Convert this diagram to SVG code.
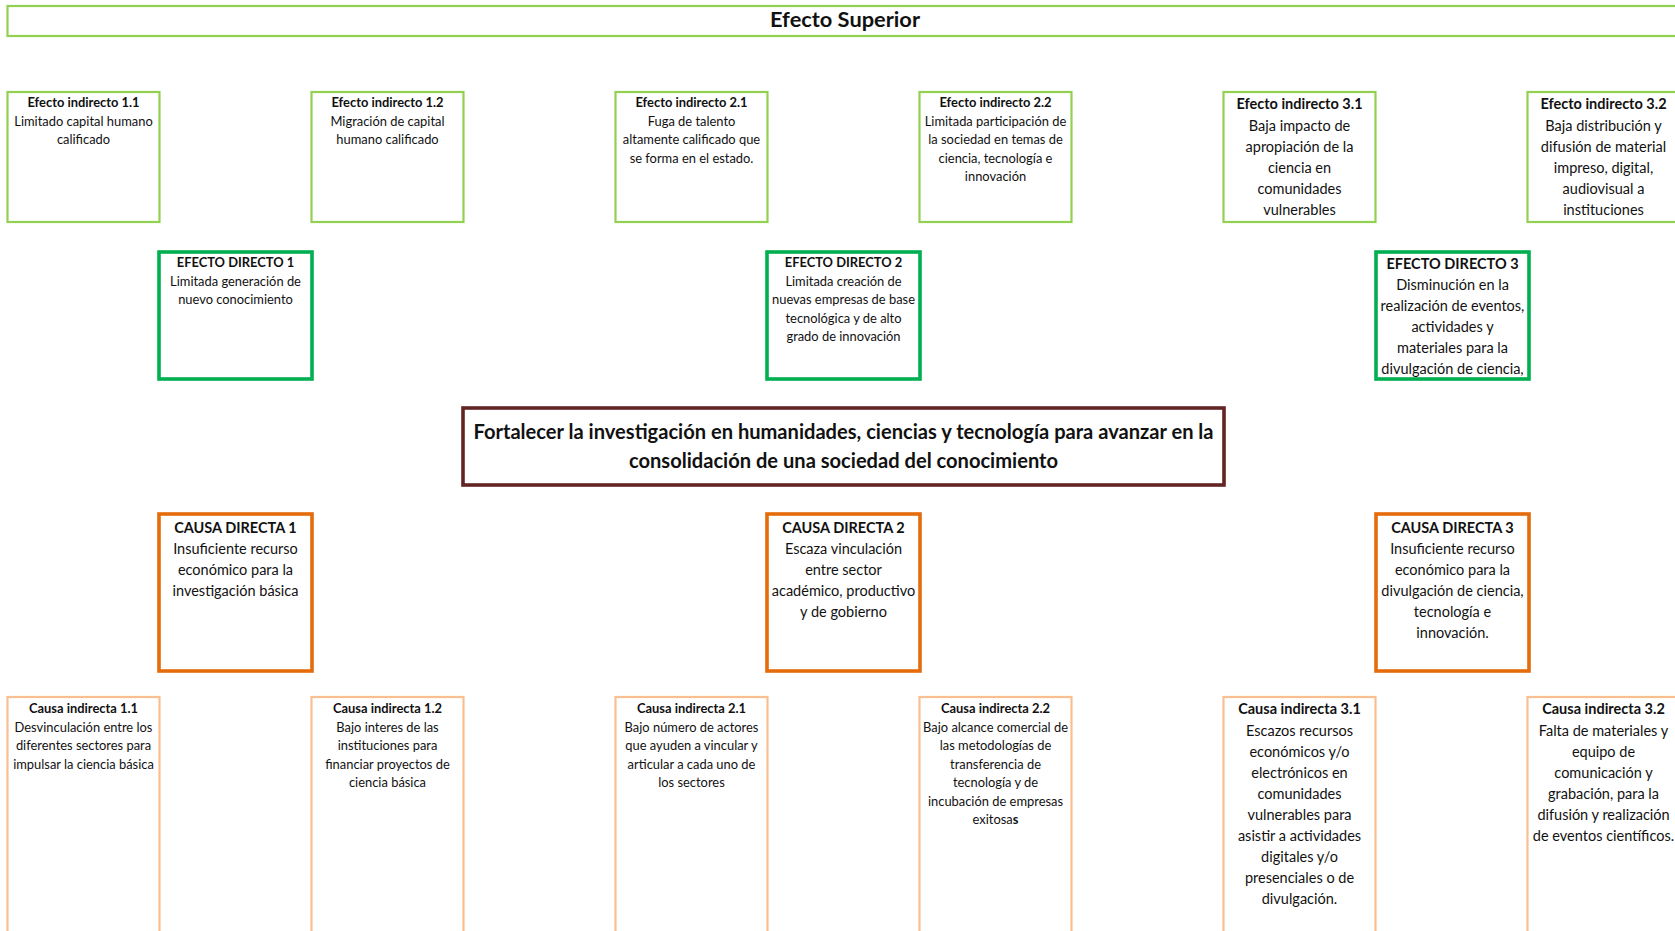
<svg xmlns="http://www.w3.org/2000/svg" width="1675" height="931" viewBox="0 0 1675 931">
<style>
  text { font-family: "Lato", "Liberation Sans", sans-serif; fill: #111; text-anchor: middle; }
  .b { font-weight: bold; }
  .s { font-size: 12.9px; }
  .l { font-size: 14.5px; }
  .sup { fill: #fff; stroke: #92D050; stroke-width: 2.2; }
  .ei { fill: #fff; stroke: #92D050; stroke-width: 2.2; }
  .ed { fill: #fff; stroke: #00B050; stroke-width: 3.6; }
  .pc { fill: #fff; stroke: #632523; stroke-width: 3.6; }
  .cd { fill: #fff; stroke: #E46C0A; stroke-width: 3.6; }
  .ci { fill: #fff; stroke: #FABF8F; stroke-width: 2.2; }
</style>
<rect width="1675" height="931" fill="#fff"/>
<g id="connectors"></g>

<g id="efecto-superior">
  <rect class="sup" x="7.5" y="6" width="1680" height="30"/>
  <text class="b" x="845" y="26.5" font-size="21.8">Efecto Superior</text>
</g>

<g id="efecto-indirecto-1-1">
  <rect class="ei" x="7.5" y="92" width="152" height="130"/>
  <text class="s"><tspan class="b" x="83.5" y="107.2">Efecto indirecto 1.1</tspan><tspan x="83.5" y="125.7">Limitado capital humano</tspan><tspan x="83.5" y="144.2">calificado</tspan></text>
</g>
<g id="efecto-indirecto-1-2">
  <rect class="ei" x="311.5" y="92" width="152" height="130"/>
  <text class="s"><tspan class="b" x="387.5" y="107.2">Efecto indirecto 1.2</tspan><tspan x="387.5" y="125.7">Migración de capital</tspan><tspan x="387.5" y="144.2">humano calificado</tspan></text>
</g>
<g id="efecto-indirecto-2-1">
  <rect class="ei" x="615.5" y="92" width="152" height="130"/>
  <text class="s"><tspan class="b" x="691.5" y="107.2">Efecto indirecto 2.1</tspan><tspan x="691.5" y="125.7">Fuga de talento</tspan><tspan x="691.5" y="144.2">altamente calificado que</tspan><tspan x="691.5" y="162.7">se forma en el estado.</tspan></text>
</g>
<g id="efecto-indirecto-2-2">
  <rect class="ei" x="919.5" y="92" width="152" height="130"/>
  <text class="s"><tspan class="b" x="995.5" y="107.2">Efecto indirecto 2.2</tspan><tspan x="995.5" y="125.7">Limitada participación de</tspan><tspan x="995.5" y="144.2">la sociedad en temas de</tspan><tspan x="995.5" y="162.7">ciencia, tecnología e</tspan><tspan x="995.5" y="181.2">innovación</tspan></text>
</g>
<g id="efecto-indirecto-3-1">
  <rect class="ei" x="1223.5" y="92" width="152" height="130"/>
  <text class="l"><tspan class="b" x="1299.5" y="109.3">Efecto indirecto 3.1</tspan><tspan x="1299.5" y="130.8">Baja impacto de</tspan><tspan x="1299.5" y="151.8">apropiación de la</tspan><tspan x="1299.5" y="172.8">ciencia en</tspan><tspan x="1299.5" y="193.8">comunidades</tspan><tspan x="1299.5" y="214.8">vulnerables</tspan></text>
</g>
<g id="efecto-indirecto-3-2">
  <rect class="ei" x="1527.5" y="92" width="152" height="130"/>
  <text class="l"><tspan class="b" x="1603.5" y="109.3">Efecto indirecto 3.2</tspan><tspan x="1603.5" y="130.8">Baja distribución y</tspan><tspan x="1603.5" y="151.8">difusión de material</tspan><tspan x="1603.5" y="172.8">impreso, digital,</tspan><tspan x="1603.5" y="193.8">audiovisual a</tspan><tspan x="1603.5" y="214.8">instituciones</tspan></text>
</g>

<g id="efecto-directo-1">
  <rect class="ed" x="159" y="252" width="153" height="127"/>
  <text class="s"><tspan class="b" x="235.5" y="267.2">EFECTO DIRECTO 1</tspan><tspan x="235.5" y="285.7">Limitada generación de</tspan><tspan x="235.5" y="304.2">nuevo conocimiento</tspan></text>
</g>
<g id="efecto-directo-2">
  <rect class="ed" x="767" y="252" width="153" height="127"/>
  <text class="s"><tspan class="b" x="843.5" y="267.2">EFECTO DIRECTO 2</tspan><tspan x="843.5" y="285.7">Limitada creación de</tspan><tspan x="843.5" y="304.2">nuevas empresas de base</tspan><tspan x="843.5" y="322.7">tecnológica y de alto</tspan><tspan x="843.5" y="341.2">grado de innovación</tspan></text>
</g>
<g id="efecto-directo-3">
  <rect class="ed" x="1376" y="252" width="153" height="127"/>
  <text class="l"><tspan class="b" x="1452.5" y="269.3">EFECTO DIRECTO 3</tspan><tspan x="1452.5" y="290.3">Disminución en la</tspan><tspan x="1452.5" y="311.3">realización de eventos,</tspan><tspan x="1452.5" y="332.3">actividades y</tspan><tspan x="1452.5" y="353.3">materiales para la</tspan><tspan x="1452.5" y="374.3">divulgación de ciencia,</tspan></text>
</g>

<g id="problema-central">
  <rect class="pc" x="463" y="408" width="761" height="77"/>
  <text class="b" font-size="20.1"><tspan x="843.5" y="439">Fortalecer la investigación en humanidades, ciencias y tecnología para avanzar en la</tspan><tspan x="843.5" y="467.5">consolidación de una sociedad del conocimiento</tspan></text>
</g>

<g id="causa-directa-1">
  <rect class="cd" x="159" y="514" width="153" height="157"/>
  <text class="l"><tspan class="b" x="235.5" y="532.8">CAUSA DIRECTA 1</tspan><tspan x="235.5" y="553.8">Insuficiente recurso</tspan><tspan x="235.5" y="574.8">económico para la</tspan><tspan x="235.5" y="595.8">investigación básica</tspan></text>
</g>
<g id="causa-directa-2">
  <rect class="cd" x="767" y="514" width="153" height="157"/>
  <text class="l"><tspan class="b" x="843.5" y="532.8">CAUSA DIRECTA 2</tspan><tspan x="843.5" y="553.8">Escaza vinculación</tspan><tspan x="843.5" y="574.8">entre sector</tspan><tspan x="843.5" y="595.8">académico, productivo</tspan><tspan x="843.5" y="616.8">y de gobierno</tspan></text>
</g>
<g id="causa-directa-3">
  <rect class="cd" x="1376" y="514" width="153" height="157"/>
  <text class="l"><tspan class="b" x="1452.5" y="532.8">CAUSA DIRECTA 3</tspan><tspan x="1452.5" y="553.8">Insuficiente recurso</tspan><tspan x="1452.5" y="574.8">económico para la</tspan><tspan x="1452.5" y="595.8">divulgación de ciencia,</tspan><tspan x="1452.5" y="616.8">tecnología e</tspan><tspan x="1452.5" y="637.8">innovación.</tspan></text>
</g>

<g id="causa-indirecta-1-1">
  <rect class="ci" x="7.5" y="697" width="152" height="260"/>
  <text class="s"><tspan class="b" x="83.5" y="713.2">Causa indirecta 1.1</tspan><tspan x="83.5" y="731.7">Desvinculación entre los</tspan><tspan x="83.5" y="750.2">diferentes sectores para</tspan><tspan x="83.5" y="768.7">impulsar la ciencia básica</tspan></text>
</g>
<g id="causa-indirecta-1-2">
  <rect class="ci" x="311.5" y="697" width="152" height="260"/>
  <text class="s"><tspan class="b" x="387.5" y="713.2">Causa indirecta 1.2</tspan><tspan x="387.5" y="731.7">Bajo interes de las</tspan><tspan x="387.5" y="750.2">instituciones para</tspan><tspan x="387.5" y="768.7">financiar proyectos de</tspan><tspan x="387.5" y="787.2">ciencia básica</tspan></text>
</g>
<g id="causa-indirecta-2-1">
  <rect class="ci" x="615.5" y="697" width="152" height="260"/>
  <text class="s"><tspan class="b" x="691.5" y="713.2">Causa indirecta 2.1</tspan><tspan x="691.5" y="731.7">Bajo número de actores</tspan><tspan x="691.5" y="750.2">que ayuden a vincular y</tspan><tspan x="691.5" y="768.7">articular a cada uno de</tspan><tspan x="691.5" y="787.2">los sectores</tspan></text>
</g>
<g id="causa-indirecta-2-2">
  <rect class="ci" x="919.5" y="697" width="152" height="260"/>
  <text class="s"><tspan class="b" x="995.5" y="713.2">Causa indirecta 2.2</tspan><tspan x="995.5" y="731.7">Bajo alcance comercial de</tspan><tspan x="995.5" y="750.2">las metodologías de</tspan><tspan x="995.5" y="768.7">transferencia de</tspan><tspan x="995.5" y="787.2">tecnología y de</tspan><tspan x="995.5" y="805.7">incubación de empresas</tspan><tspan x="995.5" y="824.2">exitosa<tspan class="b">s</tspan></tspan></text>
</g>
<g id="causa-indirecta-3-1">
  <rect class="ci" x="1223.5" y="697" width="152" height="260"/>
  <text class="l"><tspan class="b" x="1299.5" y="714.3">Causa indirecta 3.1</tspan><tspan x="1299.5" y="735.5">Escazos recursos</tspan><tspan x="1299.5" y="756.6">económicos y/o</tspan><tspan x="1299.5" y="777.7">electrónicos en</tspan><tspan x="1299.5" y="798.8">comunidades</tspan><tspan x="1299.5" y="819.9">vulnerables para</tspan><tspan x="1299.5" y="841">asistir a actividades</tspan><tspan x="1299.5" y="862.1">digitales y/o</tspan><tspan x="1299.5" y="883.2">presenciales o de</tspan><tspan x="1299.5" y="904.3">divulgación.</tspan></text>
</g>
<g id="causa-indirecta-3-2">
  <rect class="ci" x="1527.5" y="697" width="152" height="260"/>
  <text class="l"><tspan class="b" x="1603.5" y="714.3">Causa indirecta 3.2</tspan><tspan x="1603.5" y="735.5">Falta de materiales y</tspan><tspan x="1603.5" y="756.6">equipo de</tspan><tspan x="1603.5" y="777.7">comunicación y</tspan><tspan x="1603.5" y="798.8">grabación, para la</tspan><tspan x="1603.5" y="819.9">difusión y realización</tspan><tspan x="1603.5" y="841">de eventos científicos.</tspan></text>
</g>
</svg>
